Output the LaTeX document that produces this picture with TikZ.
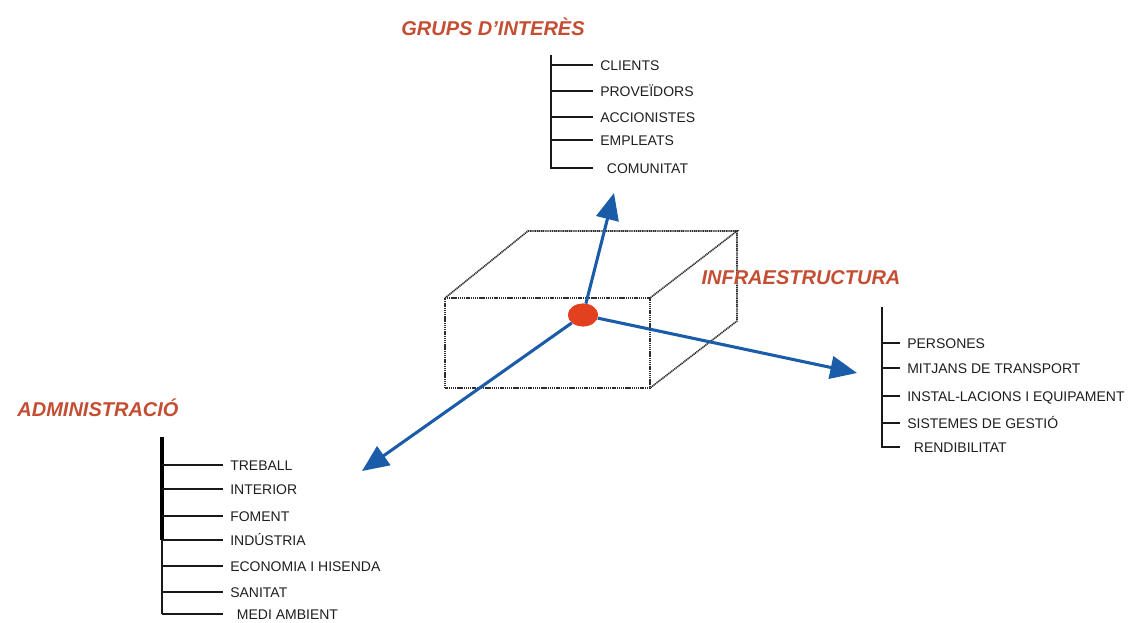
\documentclass[tikz,border=0pt]{standalone}
\usepackage{fontspec}
\setmainfont{Liberation Sans}
\usetikzlibrary{arrows.meta,shapes.geometric}
\definecolor{titlecol}{HTML}{C44E33}
\definecolor{axiscol}{HTML}{1A5CA8}
\definecolor{dotcol}{HTML}{2E2E2E}
\definecolor{dotred}{HTML}{E2401F}
\definecolor{txtcol}{HTML}{1E1E1E}
\tikzset{
  ttl/.style={font=\fontsize{15}{17}\selectfont\bfseries\itshape, text=titlecol, inner sep=0pt},
  item/.style={font=\fontsize{10.5}{12}\selectfont, text=txtcol, anchor=west, inner xsep=5.25pt, inner ysep=0pt, text height=7.6pt, text depth=0pt},
  trunk/.style={draw=black!90, line width=1.8pt},
  twig/.style={draw=black!90, line width=1.7pt},
  boxline/.style={draw=dotcol, line width=1.2pt, dash pattern=on 0.9pt off 0.5pt},
  axis/.style={draw=axiscol, line width=2.3pt, -{Triangle[length=20pt,width=17pt]}},
}
\begin{document}
\begin{tikzpicture}[x=0.75pt,y=-0.75pt]
\useasboundingbox (0,0) rectangle (1135,622);
% box
\coordinate (f1) at (445,298); \coordinate (f2) at (650,298);
\coordinate (f3) at (650,388); \coordinate (f4) at (445,388);
\coordinate (b1) at (528,231); \coordinate (b2) at (737,231);
\coordinate (b3) at (737,321);
\draw[boxline] (f1) -- (f2) -- (f3) -- (f4) -- cycle;
\draw[boxline] (f1) -- (b1) -- (b2) -- (f2);
\draw[boxline] (b2) -- (b3) -- (f3);
% axes
\node[ellipse, fill=dotred, minimum width=22.5pt, minimum height=17pt, inner sep=0pt] (c) at (583,315) {};
\coordinate (tu) at (614,193);
\coordinate (tr) at (857,373);
\coordinate (tl) at (362,471);
\draw[axis] (c) -- (tu);
\draw[axis] (c) -- (tr);
\draw[axis] (c) -- (tl);
\node[ellipse, fill=dotred, minimum width=22.5pt, minimum height=17pt, inner sep=0pt] at (c) {};
% titles
\node[ttl] (tg) at (493,27) {GRUPS D’INTERÈS};
\node[ttl] (ti) at (801,278) {INFRAESTRUCTURA};
\node[ttl] (ta) at (98,408) {ADMINISTRACIÓ};
% grups tree
\coordinate (gt) at (551,55); \coordinate (gb) at (551,169);
\node[item] (g1) at (593,65) {CLIENTS};
\node[item] (g2) at (593,91) {PROVEÏDORS};
\node[item] (g3) at (593,117) {ACCIONISTES};
\node[item] (g4) at (593,140) {EMPLEATS};
\node[item] (g5) at (593,168) {\hspace{5pt}COMUNITAT};
\draw[trunk] (gt) -- (gb);
\foreach \n in {g1,g2,g3,g4,g5} \draw[twig] (gt |- \n.west) -- (\n.west);
% infra tree
\coordinate (it) at (882,307); \coordinate (ib) at (882,448);
\node[item] (i1) at (900,343) {PERSONES};
\node[item] (i2) at (900,368) {MITJANS DE TRANSPORT};
\node[item] (i3) at (900,396) {INSTAL-LACIONS I EQUIPAMENT};
\node[item] (i4) at (900,423) {SISTEMES DE GESTIÓ};
\node[item] (i5) at (900,447) {\hspace{5pt}RENDIBILITAT};
\draw[trunk] (it) -- (ib);
\foreach \n in {i1,i2,i3,i4,i5} \draw[twig] (it |- \n.west) -- (\n.west);
% admin tree
\coordinate (at) at (162,437); \coordinate (am) at (162,540); \coordinate (ab) at (162,614);
\node[item] (a1) at (223,465) {TREBALL};
\node[item] (a2) at (223,489) {INTERIOR};
\node[item] (a3) at (223,516) {FOMENT};
\node[item] (a4) at (223,540) {INDÚSTRIA};
\node[item] (a5) at (223,566) {ECONOMIA I HISENDA};
\node[item] (a6) at (223,592) {SANITAT};
\node[item] (a7) at (223,614) {\hspace{5pt}MEDI AMBIENT};
\draw[trunk] (at) -- (ab);
\draw[draw=black, line width=3pt] (at) -- (am);
\foreach \n in {a1,a2,a3,a4,a5,a6,a7} \draw[twig] (at |- \n.west) -- (\n.west);
\end{tikzpicture}
\end{document}
